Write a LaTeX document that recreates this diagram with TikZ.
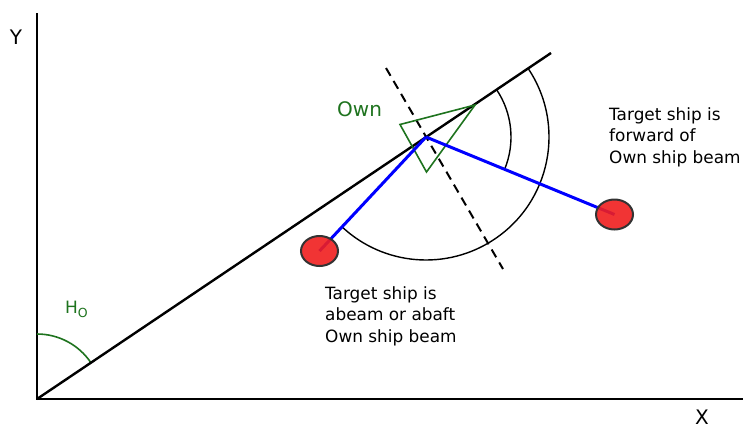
\documentclass[tikz,border=0pt]{standalone}
\usepackage{fontspec}
\setmainfont{DejaVu Sans}
\usetikzlibrary{shapes.geometric}
\definecolor{shipgreen}{RGB}{30,115,30}
\definecolor{tgtred}{RGB}{240,30,30}
\begin{document}
\begin{tikzpicture}[x=1pt,y=-1pt,
  axis/.style={line width=2.4pt,black},
  arcline/.style={line width=1.4pt,black},
  bearing/.style={line width=3pt,blue},
  target/.style={ellipse,draw=black!80,line width=2pt,fill=tgtred,minimum width=37pt,minimum height=30pt,inner sep=0pt},
  note/.style={align=left,inner sep=0pt,anchor=north west,font=\fontsize{16.9}{21.7}\selectfont},
  lbl/.style={inner sep=0pt,font=\fontsize{20}{24}\selectfont}]
\useasboundingbox (0,0) rectangle (743,426);
% axes
\coordinate (O) at (37,399);
\coordinate (ytop) at (37,13);
\coordinate (xend) at (743,399);
\coordinate (hend) at (551,53);
\coordinate (own) at (426,137);
\draw[axis] (ytop) -- (O) -- (xend);
\node[lbl] (ylab) at (16,37) {Y};
\node[lbl] (xlab) at (702,417) {X};
% heading angle
\draw[shipgreen,line width=1.6pt] (37,334) arc[start angle=-90,end angle=-33.9,radius=65];
\node[inner sep=0pt,text=shipgreen,font=\fontsize{17}{20}\selectfont,anchor=base west] (ho) at (65,313) {H\raisebox{-4pt}{\fontsize{12.5}{14}\selectfont O}};
% heading line
\draw[axis] (O) -- (hend);
% beam (dashed)
\coordinate (b1) at (386,68);
\coordinate (b2) at (503,269);
\draw[black,line width=2pt,dash pattern=on 9pt off 6pt] (b1) -- (b2);
% arcs
\draw[arcline] (own) ++(-33.9:123) arc[start angle=-33.9,end angle=133.2,radius=123];
\draw[arcline] (own) ++(-33.9:85) arc[start angle=-33.9,end angle=22.3,radius=85];
% own ship triangle
\coordinate (t1) at (475,105);
\coordinate (t2) at (400,124.5);
\coordinate (t3) at (426.5,172);
\draw[shipgreen,line width=1.6pt,line join=miter] (t1) -- (t2) -- (t3) -- cycle;
\node[inner sep=0pt,text=shipgreen,font=\fontsize{20}{24}\selectfont,anchor=base west] (ownlab) at (337,116.5) {Own};
% targets
\coordinate (tlc) at (319.5,251);
\coordinate (trc) at (614.5,214.5);
\draw[bearing] (own) -- (tlc);
\draw[bearing] (own) -- (trc);
\node[target,fill opacity=0.9,draw opacity=1] (tl) at (tlc) {};
\node[target,fill opacity=0.9,draw opacity=1] (tr) at (trc) {};
% notes
\node[note] (n1) at (609,107) {Target ship is\\forward of\\Own ship beam};
\node[note] (n2) at (325,286) {Target ship is\\abeam or abaft\\Own ship beam};
\end{tikzpicture}
\end{document}
